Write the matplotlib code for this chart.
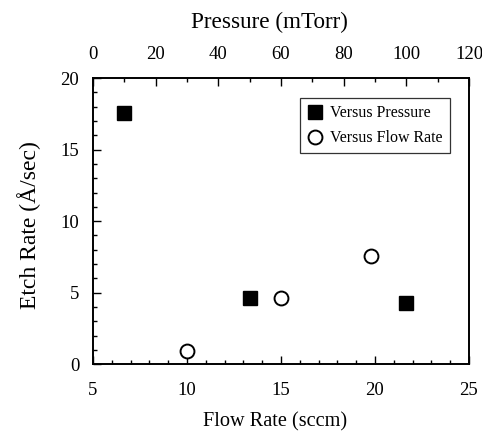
import matplotlib
matplotlib.use("Agg")
import matplotlib.pyplot as plt
from matplotlib.ticker import MultipleLocator

plt.rcParams['font.family'] = ['Liberation Serif', 'DejaVu Serif']

pressure = [10, 50, 100]
rate_vs_pressure = [17.55, 4.6, 4.27]
flow = [10, 15, 19.8]
rate_vs_flow = [0.9, 4.6, 7.6]

fig = plt.figure(figsize=(4.82, 4.32), dpi=100)
ax = fig.add_axes([0.193, 0.157, 0.780, 0.662])
ax2 = ax.twiny()

ax.set_xlim(5, 25)
ax.set_ylim(0, 20)
ax2.set_xlim(0, 120)

l2, = ax.plot(flow, rate_vs_flow, linestyle='none', marker='o', ms=10,
              mfc='white', mec='black', mew=1.4, label='Versus Flow Rate')
l1, = ax2.plot(pressure, rate_vs_pressure, linestyle='none', marker='s', ms=9.5,
               mfc='black', mec='black', label='Versus Pressure')

for a in (ax, ax2):
    for s in a.spines.values():
        s.set_linewidth(1.2)

ax.xaxis.set_major_locator(MultipleLocator(5))
ax.xaxis.set_minor_locator(MultipleLocator(1))
ax.yaxis.set_major_locator(MultipleLocator(5))
ax.yaxis.set_minor_locator(MultipleLocator(1))
ax2.xaxis.set_major_locator(MultipleLocator(20))
ax2.xaxis.set_minor_locator(MultipleLocator(10))

ax.tick_params(which='both', direction='in', labelsize=13.5, width=1.0)
ax.tick_params(which='major', length=6)
ax.tick_params(which='minor', length=3)
ax.tick_params(axis='y', which='both', right=False, pad=10)
ax.tick_params(axis='x', which='both', top=False, pad=12.5)
ax2.tick_params(which='both', direction='in', labelsize=13.5, width=1.0, pad=11)
ax2.tick_params(which='major', length=6)
ax2.tick_params(which='minor', length=3)

ax.set_xlabel('Flow Rate (sccm)', fontsize=14.6, labelpad=10, x=0.484)
ax.set_ylabel('Etch Rate (Å/sec)', fontsize=17, labelpad=14, y=0.486)
ax2.set_xlabel('Pressure (mTorr)', fontsize=16.7, labelpad=13, x=0.468)

leg = ax2.legend(handles=[l1, l2], loc='upper right', fontsize=11.5,
                 frameon=True, fancybox=False, edgecolor='black',
                 handletextpad=0.45, borderpad=0.45, labelspacing=0.55,
                 borderaxespad=0, bbox_to_anchor=(0.949, 0.930), handlelength=1.0)
leg.get_frame().set_linewidth(0.9)

fig.savefig('out.png', dpi=100)
